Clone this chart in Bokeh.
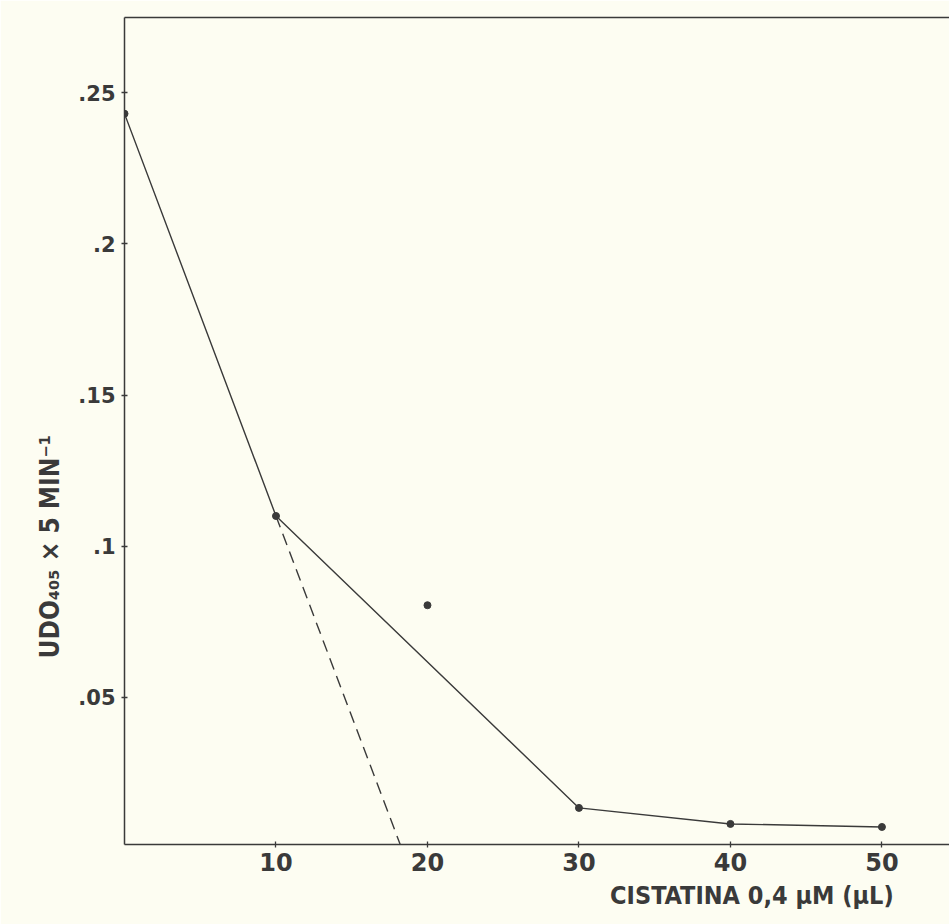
from bokeh.plotting import figure
from bokeh.models import Range1d, FixedTicker, LinearAxis, Title
from bokeh.embed import file_html
from bokeh.resources import INLINE

# data
x_curve = [0, 10, 30, 40, 50]
y_curve = [0.243, 0.110, 0.0135, 0.0082, 0.0072]
x_outlier = [20]
y_outlier = [0.0805]
x_extrap = [10, 18.2]
y_extrap = [0.110, 0.0014]
x_ticks = [10, 20, 30, 40, 50]
y_ticks = [0.05, 0.1, 0.15, 0.2, 0.25]
y_tick_labels = [".05", ".1", ".15", ".2", ".25"]
x_title = "CISTATINA 0,4 µM  (µL)"
y_title = "UDO₄₀₅ × 5 MIN⁻¹"

BG = "#fdfdf2"
INK = "#3a3a3a"
COND = "'Liberation Sans Narrow', 'DejaVu Sans Condensed', sans-serif"

p = figure(width=949, height=924, output_backend="svg", toolbar_location=None,
           x_range=Range1d(0, 54.46), y_range=Range1d(0.0014, 0.2748),
           min_border_left=124, min_border_right=0, min_border_top=17, min_border_bottom=80)
p.background_fill_color = BG
p.border_fill_color = BG
p.outline_line_color = None
p.grid.visible = False

for ax in (p.xaxis[0], p.yaxis[0]):
    ax.axis_line_color = INK
    ax.axis_line_width = 1.5
    ax.major_tick_line_color = INK
    ax.major_tick_line_width = 1.3
    ax.major_tick_in = 3
    ax.major_tick_out = 3
    ax.minor_tick_line_color = None
    ax.major_label_text_color = INK
    ax.major_label_text_font = "DejaVu Sans"
    ax.major_label_text_font_style = "bold"

p.xaxis.ticker = FixedTicker(ticks=x_ticks)
p.xaxis.major_label_text_font_size = "24px"
p.xaxis.major_label_standoff = 5

p.yaxis.ticker = FixedTicker(ticks=y_ticks)
p.yaxis.major_label_overrides = {t: l for t, l in zip(y_ticks, y_tick_labels)}
p.yaxis.major_label_text_font_size = "21px"
p.yaxis.major_label_standoff = 6

top = LinearAxis(ticker=FixedTicker(ticks=[]), axis_line_color=INK, axis_line_width=1.5,
                 major_tick_line_color=None, minor_tick_line_color=None,
                 major_label_text_font_size="0px")
p.add_layout(top, "above")

p.line(x_curve, y_curve, line_color=INK, line_width=1.4)
p.line(x_extrap, y_extrap, line_color=INK, line_width=1.4, line_dash="12 7")
p.scatter(x_curve, y_curve, size=7, fill_color=INK, line_color=INK)
p.scatter(x_outlier, y_outlier, size=7, fill_color=INK, line_color=INK)

p.add_layout(Title(text=x_title, align="right", offset=48, text_font=COND,
                   text_font_style="bold", text_font_size="25px", text_color=INK,
                   standoff=10), "below")
p.add_layout(Title(text=y_title, align="left", offset=186, text_font=COND,
                   text_font_style="bold", text_font_size="26px", text_color=INK,
                   standoff=22), "left")

open("out.html", "w").write(file_html(p, INLINE))
